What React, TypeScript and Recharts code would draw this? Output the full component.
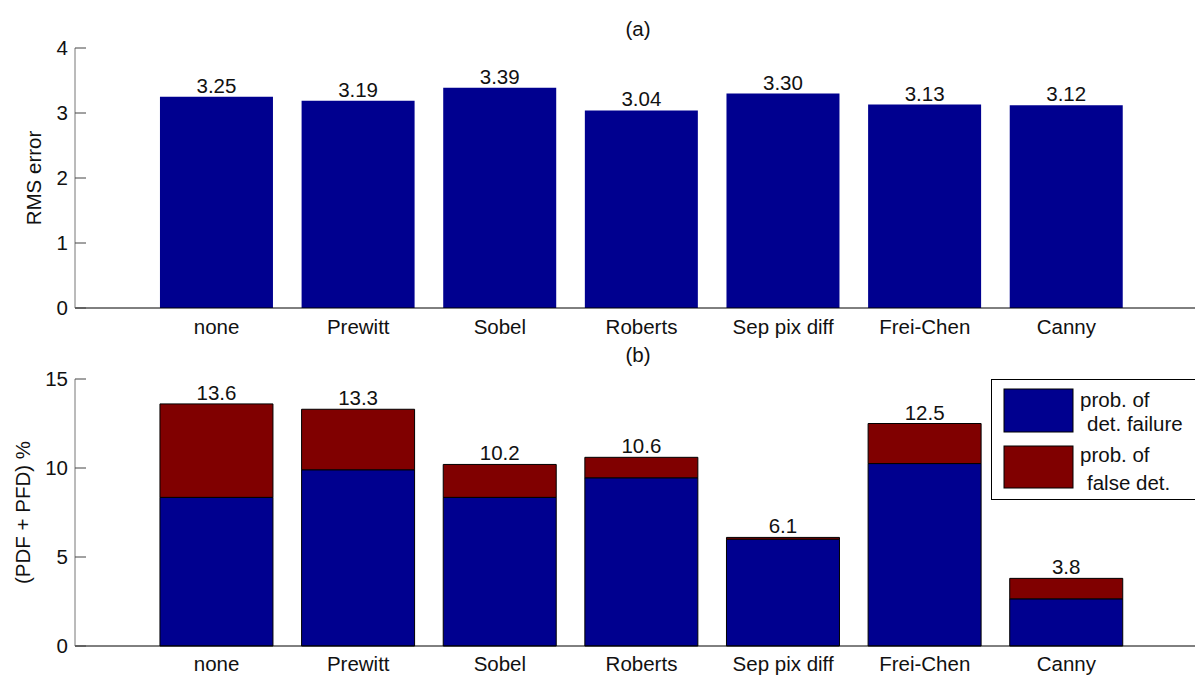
import React from 'react';
import { BarChart, Bar, XAxis, YAxis, LabelList } from 'recharts';

const categories = ['none', 'Prewitt', 'Sobel', 'Roberts', 'Sep pix diff', 'Frei-Chen', 'Canny'];
const rmsError = [3.25, 3.19, 3.39, 3.04, 3.3, 3.13, 3.12];
const detFailure = [8.35, 9.9, 8.35, 9.45, 6.0, 10.25, 2.65];
const falseDet = [5.25, 3.4, 1.85, 1.15, 0.1, 2.25, 1.15];
const yTicksA = [0, 1, 2, 3, 4];
const yTicksB = [0, 5, 10, 15];

const BLUE = '#00008F';
const RED = '#800000';
const FONT = '"Liberation Sans", Arial, Helvetica, sans-serif';
const FS = 20.5;
const TXT = '#111';

const dataA = categories.map((c, i) => ({ name: c, rms: rmsError[i] }));
const dataB = categories.map((c, i) => ({
  name: c,
  fdf: detFailure[i],
  fd: falseDet[i],
  total: Math.round((detFailure[i] + falseDet[i]) * 10) / 10,
}));

const YTick = (props: any) => {
  const { x, y, payload } = props;
  const axisX = x + 7;
  return (
    <g>
      <line x1={axisX} x2={axisX + 11} y1={y} y2={y} stroke="#444" strokeWidth={1} />
      <text x={x} y={y} dy="0.36em" textAnchor="end" fontSize={FS} fontFamily={FONT} fill={TXT}>
        {payload.value}
      </text>
    </g>
  );
};

const XTick = (props: any) => {
  const { x, y, payload } = props;
  return (
    <text x={x} y={y} dy="0.71em" textAnchor="middle" fontSize={FS} fontFamily={FONT} fill={TXT}>
      {payload.value}
    </text>
  );
};

const yLabel = (text: string, cx: number) => (props: any) => {
  const vb = props.viewBox || {};
  const cy = (vb.y || 0) + (vb.height || 0) / 2;
  return (
    <text
      x={cx}
      y={cy}
      dy="0.36em"
      transform={`rotate(-90 ${cx} ${cy})`}
      textAnchor="middle"
      fontSize={FS}
      fontFamily={FONT}
      fill={TXT}
    >
      {text}
    </text>
  );
};

const CHART_W = 1210;
const XPAD = { left: 70.8, right: 70.8 };

export default function App() {
  return (
    <div
      style={{
        position: 'absolute',
        left: 0,
        top: 0,
        width: 1195,
        height: 675,
        overflow: 'hidden',
        background: '#fff',
        fontFamily: FONT,
      }}
    >
      <div style={{ position: 'absolute', left: 0, top: 0 }}>
        <BarChart
          width={CHART_W}
          height={340}
          data={dataA}
          margin={{ top: 48, right: 2, bottom: 0, left: 0 }}
          barCategoryGap="10%"
        >
          <XAxis
            dataKey="name"
            interval={0}
            height={32}
            padding={XPAD}
            tickLine={false}
            tickSize={0}
            tickMargin={11}
            axisLine={{ stroke: '#000', strokeWidth: 1 }}
            tick={<XTick />}
          />
          <YAxis
            width={75}
            domain={[0, 4]}
            ticks={yTicksA}
            interval={0}
            tickLine={false}
            tickSize={0}
            tickMargin={7}
            axisLine={{ stroke: '#777', strokeWidth: 1 }}
            tick={<YTick />}
            label={{ content: yLabel('RMS error', 34) }}
          />
          <Bar dataKey="rms" fill={BLUE} isAnimationActive={false}>
            <LabelList
              dataKey="rms"
              position="top"
              offset={4}
              formatter={(v: any) => Number(v).toFixed(2)}
              style={{ fontSize: FS, fontFamily: FONT, fill: TXT }}
            />
          </Bar>
        </BarChart>
      </div>

      <div style={{ position: 'absolute', left: 0, top: 340 }}>
        <BarChart
          width={CHART_W}
          height={335}
          data={dataB}
          margin={{ top: 39, right: 2, bottom: 0, left: 0 }}
          barCategoryGap="10%"
        >
          <XAxis
            dataKey="name"
            interval={0}
            height={29}
            padding={XPAD}
            tickLine={false}
            tickSize={0}
            tickMargin={10}
            axisLine={{ stroke: '#000', strokeWidth: 1 }}
            tick={<XTick />}
          />
          <YAxis
            width={75}
            domain={[0, 15]}
            ticks={yTicksB}
            interval={0}
            tickLine={false}
            tickSize={0}
            tickMargin={7}
            axisLine={{ stroke: '#777', strokeWidth: 1 }}
            tick={<YTick />}
            label={{ content: yLabel('(PDF + PFD) %', 23) }}
          />
          <Bar dataKey="fdf" stackId="s" fill={BLUE} stroke="#000" strokeWidth={1} isAnimationActive={false} />
          <Bar dataKey="fd" stackId="s" fill={RED} stroke="#000" strokeWidth={1} isAnimationActive={false}>
            <LabelList
              dataKey="total"
              position="top"
              offset={4}
              formatter={(v: any) => Number(v).toFixed(1)}
              style={{ fontSize: FS, fontFamily: FONT, fill: TXT }}
            />
          </Bar>
        </BarChart>
      </div>

      <div
        style={{
          position: 'absolute',
          left: 638,
          top: 29,
          transform: 'translate(-50%, -50%)',
          fontSize: FS,
          color: TXT,
          lineHeight: 1,
        }}
      >
        (a)
      </div>
      <div
        style={{
          position: 'absolute',
          left: 638,
          top: 355,
          transform: 'translate(-50%, -50%)',
          fontSize: FS,
          color: TXT,
          lineHeight: 1,
        }}
      >
        (b)
      </div>

      <svg
        width={210}
        height={122}
        style={{ position: 'absolute', left: 991, top: 379 }}
        fontFamily={FONT}
        fontSize={FS}
      >
        <rect x={0.5} y={0.5} width={210} height={120} fill="#fff" stroke="#000" strokeWidth={1} />
        <rect x={13} y={10} width={69} height={43} fill={BLUE} stroke="#000" strokeWidth={1} />
        <rect x={13} y={67} width={69} height={42} fill={RED} stroke="#000" strokeWidth={1} />
        <text x={89} y={28} fill={TXT}>prob. of</text>
        <text x={96} y={52} fill={TXT}>det. failure</text>
        <text x={89} y={83} fill={TXT}>prob. of</text>
        <text x={96} y={111} fill={TXT}>false det.</text>
      </svg>
    </div>
  );
}
